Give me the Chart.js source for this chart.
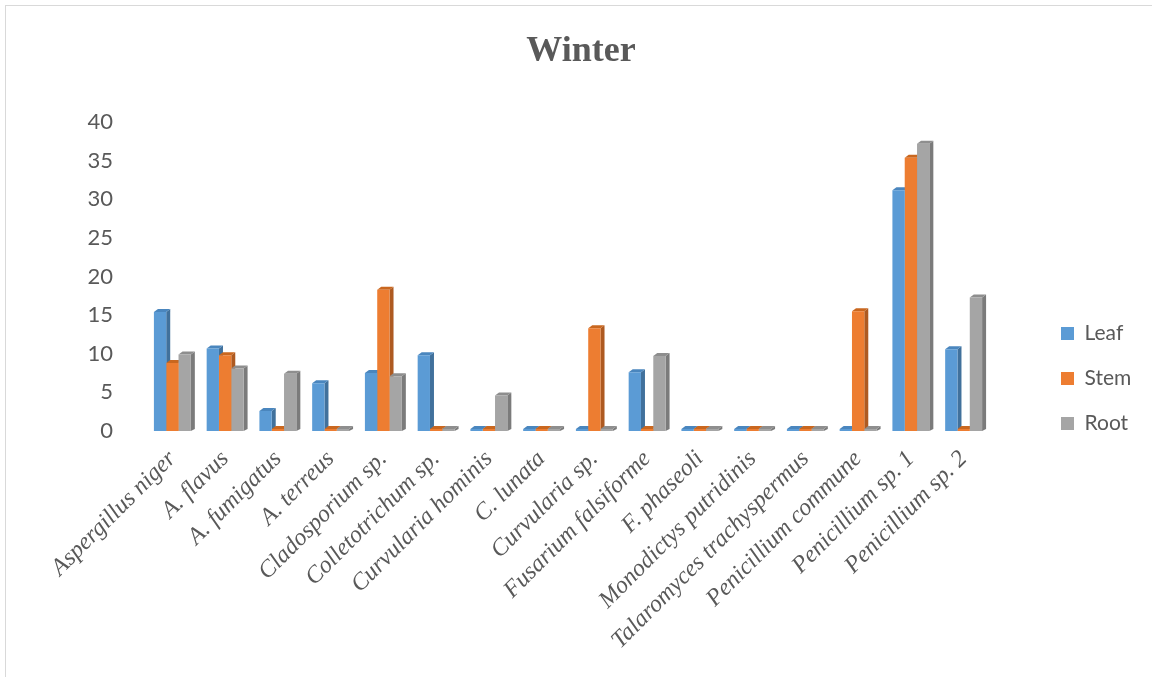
<!DOCTYPE html>
<html>
<head>
<meta charset="utf-8">
<script src="https://cdn.jsdelivr.net/npm/chart.js@4.4.1/dist/chart.umd.min.js"></script>
<style>
  html, body { margin: 0; padding: 0; background: #fff; }
  #wrap { position: absolute; left: 0; top: 0; width: 1152px; height: 677px; }
  #frame { position: absolute; left: 5px; top: 5px; width: 1200px; height: 700px; border: 1px solid #d9d9d9; box-sizing: border-box; }
  canvas { position: absolute; left: 0; top: 0; }
</style>
</head>
<body>
<div id="wrap">
  <div id="frame"></div>
  <canvas id="chart" width="1152" height="677"></canvas>
</div>
<script>
const categories = [
  'Aspergillus niger', 'A. flavus', 'A. fumigatus', 'A. terreus',
  'Cladosporium sp.', 'Colletotrichum sp.', 'Curvularia hominis', 'C. lunata',
  'Curvularia sp.', 'Fusarium falsiforme', 'F. phaseoli', 'Monodictys putridinis',
  'Talaromyces trachyspermus', 'Penicillium commune', 'Penicillium sp. 1', 'Penicillium sp. 2'
];
const leaf = [15.4, 10.7, 2.6, 6.2, 7.5, 9.8, 0, 0, 0, 7.6, 0, 0, 0, 0, 31.2, 10.6];
const stem = [8.8, 9.8, 0, 0, 18.3, 0, 0, 0, 13.3, 0, 0, 0, 0, 15.5, 35.4, 0];
const root = [9.9, 8.1, 7.4, 0, 7.1, 0, 4.6, 0, 0, 9.7, 0, 0, 0, 0, 37.2, 17.3];
const yTicks = [0, 5, 10, 15, 20, 25, 30, 35, 40];

const faceColors = ['#5B9BD5', '#ED7D31', '#A5A5A5'];
const sideColors = ['#41719C', '#AE5A21', '#7B7B7B'];
const capColors = ['#4A86BE', '#C9671F', '#8E8E8E'];
const DEPTH = 4;

// fake 3D: side and cap faces drawn behind the bars from each bar element's geometry
const bar3d = {
  id: 'bar3d',
  beforeDatasetsDraw(chart){
    const ctx = chart.ctx;
    chart.data.datasets.forEach((ds, i) => {
      const meta = chart.getDatasetMeta(i);
      meta.data.forEach(bar => {
        const p = bar.getProps(['x','y','base','width'], true);
        const right = p.x + p.width/2, left = p.x - p.width/2;
        ctx.save();
        ctx.fillStyle = sideColors[i];
        ctx.beginPath();
        ctx.moveTo(right, p.base);
        ctx.lineTo(right + DEPTH, p.base - 2);
        ctx.lineTo(right + DEPTH, p.y - DEPTH + 1);
        ctx.lineTo(right, p.y);
        ctx.closePath();
        ctx.fill();
        ctx.fillStyle = capColors[i];
        ctx.beginPath();
        ctx.moveTo(left, p.y);
        ctx.lineTo(left + DEPTH, p.y - DEPTH + 1);
        ctx.lineTo(right + DEPTH, p.y - DEPTH + 1);
        ctx.lineTo(right, p.y);
        ctx.closePath();
        ctx.fill();
        ctx.restore();
      });
    });
  }
};

// legend box: wider so the plot stops where the reference one does, items nudged into place
const legendPlace = {
  id: 'legendPlace',
  beforeLayout(chart){
    const lg = chart.legend;
    if(lg && !lg._wrapped){
      const fit = lg.fit;
      lg.fit = function(){ fit.call(this); this.width = 148; };
      lg._wrapped = true;
    }
  },
  afterLayout(chart){
    const lg = chart.legend;
    lg.left += 47; lg.right += 47;
    lg.top += 40; lg.bottom += 40;
  }
};

const ctx = document.getElementById('chart');
new Chart(ctx, {
  type: 'bar',
  data: {
    labels: categories,
    datasets: [
      { label: 'Leaf', data: leaf, backgroundColor: faceColors[0] },
      { label: 'Stem', data: stem, backgroundColor: faceColors[1] },
      { label: 'Root', data: root, backgroundColor: faceColors[2] }
    ]
  },
  options: {
    responsive: false,
    animation: false,
    layout: { padding: { left: 24, right: 14, top: 10, bottom: 10 } },
    datasets: { bar: { categoryPercentage: 0.7, barPercentage: 1.0, minBarLength: 2 } },
    plugins: {
      title: {
        display: true, text: 'Winter', color: '#595959',
        font: { family: '"Liberation Serif", "Times New Roman", serif', size: 36, weight: 'bold' },
        padding: { top: 20, bottom: 49 }
      },
      legend: {
        position: 'right', align: 'center',
        labels: {
          color: '#595959', boxWidth: 13, boxHeight: 13, padding: 24,
          font: { family: 'Lato, "Liberation Sans", sans-serif', size: 21 }
        }
      },
      tooltip: { enabled: false }
    },
    scales: {
      x: {
        grid: { display: false }, border: { display: false },
        afterFit: scale => { scale.height = 236; },
        ticks: {
          color: '#595959', maxRotation: 45, minRotation: 45, autoSkip: false, padding: 6,
          font: { family: '"Liberation Serif", "Times New Roman", serif', size: 24, style: 'italic' }
        }
      },
      y: {
        min: 0, max: 40,
        grid: { display: false }, border: { display: false },
        afterFit: scale => { scale.width = 122; },
        afterBuildTicks: axis => { axis.ticks = yTicks.map(v => ({ value: v })); },
        ticks: {
          color: '#595959', padding: 25,
          font: { family: 'Lato, "Liberation Sans", sans-serif', size: 22 }
        }
      }
    }
  },
  plugins: [bar3d, legendPlace]
});
</script>
</body>
</html>
